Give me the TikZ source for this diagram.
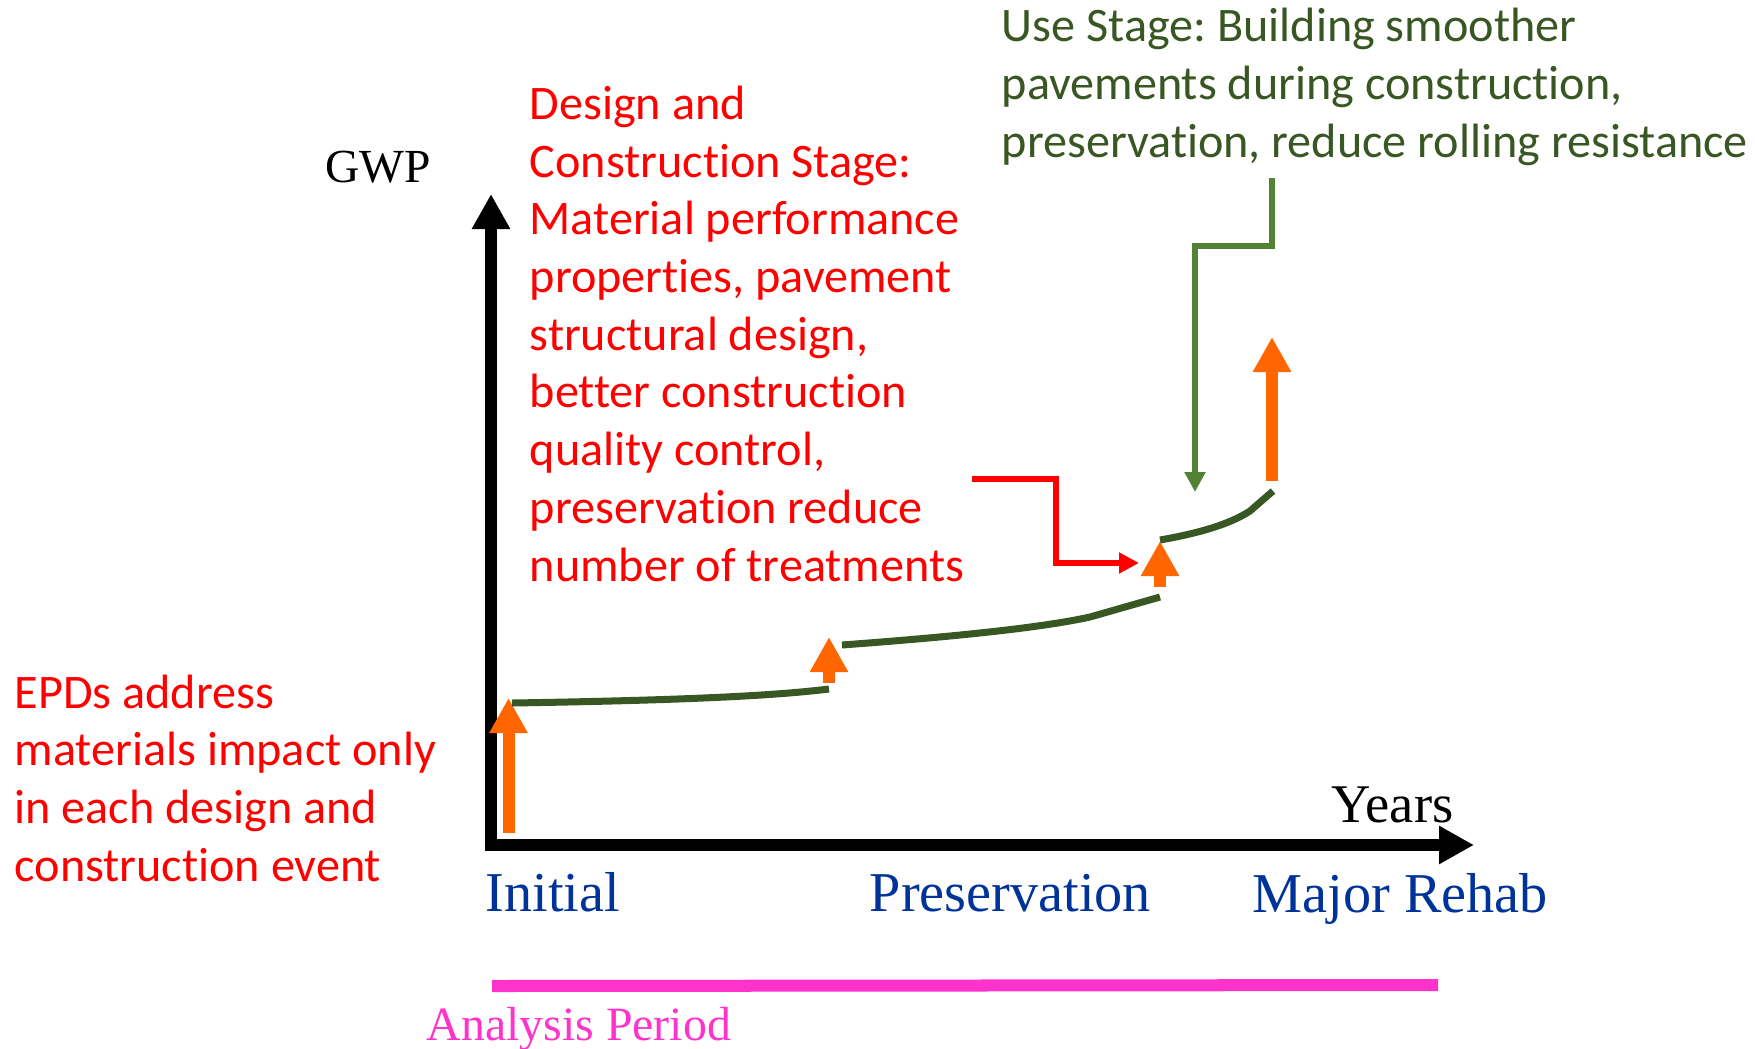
\documentclass[tikz,border=0pt]{standalone}
\usepackage{fontspec}
\setmainfont{Liberation Serif}
\newfontfamily\calibri[Ligatures=NoCommon]{Carlito}
\usetikzlibrary{arrows.meta,calc}
\frenchspacing

\definecolor{gwpgreen}{RGB}{56,87,35}
\definecolor{usegreen}{RGB}{84,130,53}
\definecolor{bumporange}{RGB}{255,102,0}
\definecolor{eventblue}{RGB}{0,51,153}
\definecolor{periodpink}{RGB}{255,51,204}

\begin{document}
\begin{tikzpicture}[x=0.01cm,y=-0.01cm,
  axis/.style={line width=0.12cm,{Triangle[width=0.36cm,length=0.35cm]}-{Triangle[width=0.36cm,length=0.35cm]}},
  bump/.style={bumporange,line width=0.12cm,-{Triangle[width=0.36cm,length=0.35cm]}},
  curve/.style={gwpgreen,line width=0.07cm},
  callout/.style={line width=0.065cm,-{Triangle[width=0.2cm,length=0.2cm]}},
  note/.style={anchor=base west,inner sep=0pt,align=left,font=\calibri\fontsize{13.7}{16.4}\selectfont},
  label/.style={anchor=base west,inner sep=0pt,font=\fontsize{16}{19}\selectfont}]
\useasboundingbox (0,0) rectangle (1755,1048);

% axes
\draw[axis] (491,194) -- (491,845) -- (1474,845);
\node[label,font=\fontsize{13.5}{16}\selectfont](gwp) at (325,182) {GWP};
\node[label,font=\fontsize{15.5}{18}\selectfont](years) at (1331,822) {Years};

% events along the time axis
\node[label,eventblue](initial) at (485,911) {Initial};
\node[label,eventblue](preserv) at (869,911) {Preservation};
\node[label,eventblue](rehab) at (1252,912) {Major Rehab};

% analysis period bar
\draw[periodpink,line width=0.12cm] (492,986) -- (1438,985);
\node[label,periodpink,font=\fontsize{13.6}{16}\selectfont](period) at (426,1040) {Analysis Period};

% GWP jumps at each event
\draw[bump] (508.5,833) -- (508.5,698);
\draw[bump] (829,683) -- (829,637);
\draw[bump] (1160,587) -- (1160,541);
\draw[bump] (1272,481) -- (1272,337);

% GWP growth between events
\draw[curve] (512,703) .. controls (700,700) and (780,695) .. (829,689);
\draw[curve] (842,645) .. controls (950,637) and (1040,628) .. (1090,617) -- (1160,597);
\draw[curve] (1160,540) .. controls (1200,533) and (1230,524) .. (1250,511) -- (1273,491);

% notes (anchored on the baseline of their last line)
\node[note,red](epd) at (14,881) {EPDs address\\materials impact only\\in each design and\\construction event};
\node[note,red](design) at (529,581) {Design and\\Construction Stage:\\Material performance\\properties, pavement\\structural design,\\better construction\\quality control,\\preservation reduce\\number of treatments};
\node[note,gwpgreen](use) at (1001,157) {Use Stage: Building smoother\\pavements during construction,\\preservation, reduce rolling resistance};

\coordinate (redfrom) at (972,479);
\coordinate (redto) at (1139,563);
\coordinate (usefrom) at (1272,178);
\coordinate (useto) at (1195,492);

\draw[callout,red] (redfrom) -- ($(redfrom)+(84,0)$) |- (redto);
\draw[callout,usegreen] (usefrom) -- ($(usefrom)+(0,68)$) -| (useto);
\end{tikzpicture}
\end{document}
